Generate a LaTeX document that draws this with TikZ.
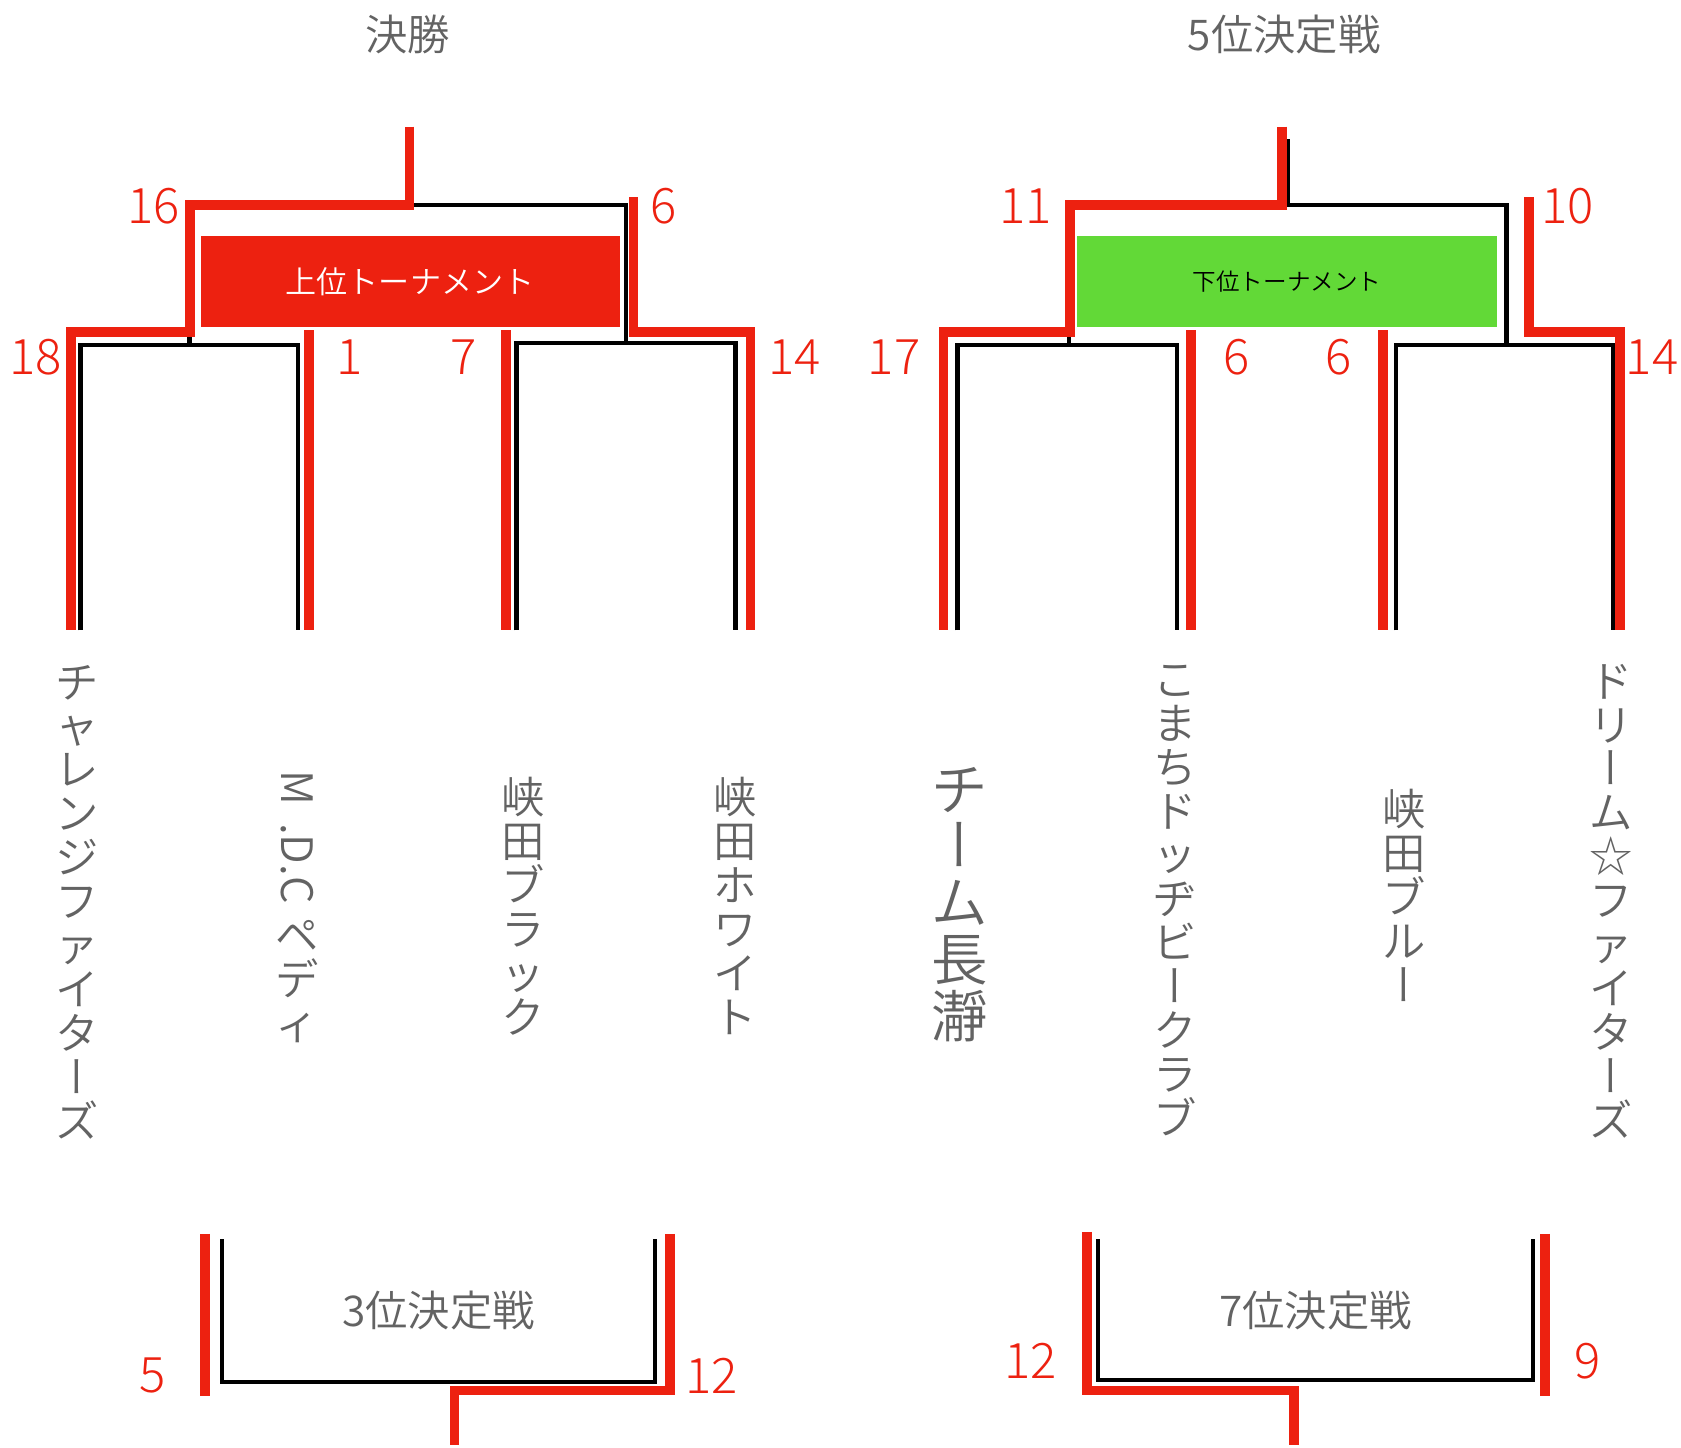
\documentclass[tikz,border=0pt]{standalone}
\usepackage{fontspec}
\IfFontExistsTF{Noto Sans CJK JP DemiLight}{\setmainfont{Noto Sans CJK JP DemiLight}\newfontfamily\jpv[RawFeature=+vert]{Noto Sans CJK JP DemiLight}}{\setmainfont{Noto Sans CJK JP}\newfontfamily\jpv[RawFeature=+vert]{Noto Sans CJK JP}}
\IfFontExistsTF{Noto Sans CJK JP Light}{\newfontfamily\numfont{Noto Sans CJK JP Light}}{\newfontfamily\numfont{Noto Sans CJK JP}}
\newcommand{\VB}{{\jpv ー}}
\definecolor{bred}{RGB}{237,33,16}
\definecolor{bgreen}{RGB}{98,217,55}
\definecolor{tgray}{RGB}{99,99,99}
\tikzset{
  redl/.style={draw=bred,line width=5.2pt,line join=miter},
  blkl/.style={draw=black,line width=2.4pt,line join=miter},
  num/.style={text=bred,inner sep=0pt,font={\numfont\fontsize{26}{26}\selectfont}},
  ttl/.style={text=tgray,inner sep=0pt,font={\fontsize{22.5}{24}\selectfont}},
  vt/.style={text=tgray,inner sep=0pt,anchor=north,align=center,font={\fontsize{23}{23.3}\selectfont\lineskiplimit=-30pt\lineskip=0pt}},
  vtbig/.style={vt,font={\fontsize{30}{30.2}\selectfont\lineskiplimit=-30pt\lineskip=0pt}},
}
\begin{document}
\begin{tikzpicture}[x=0.02cm,y=-0.02cm]
\path[use as bounding box,fill=white] (0,0) rectangle (1568,1350);

% ---------- titles ----------
\node[ttl] (tf) at (380,32) {決勝};
\node[ttl] (t5) at (1198,32) {5位決定戦};
\node[ttl] (t3) at (409,1222) {3位決定戦};
\node[ttl] (t7) at (1227,1222) {7位決定戦};

% ---------- boxes ----------
\node[fill=bred,minimum width=7.82cm,minimum height=1.7cm,inner sep=0pt,text=white,font={\fontsize{16.5}{17}\selectfont}] (ubox) at (382.5,262.5) {上位トーナメント};
\node[fill=bgreen,minimum width=7.82cm,minimum height=1.7cm,inner sep=0pt,text=black,font={\fontsize{12.5}{13}\selectfont}] (lbox) at (1200.5,262.5) {下位トーナメント};

% ---------- upper bracket (left) ----------
\draw[blkl] (382,191) -- (584,191) -- (584,322);
\draw[blkl] (177,310) -- (177,322);
\draw[blkl] (75,588) -- (75,322) -- (278,322) -- (278,588);
\draw[blkl] (482,588) -- (482,320) -- (686,320) -- (686,588);
\draw[redl] (382,118) -- (382,191) -- (177,191) -- (177,310) -- (66,310) -- (66,588);
\draw[redl] (591,184) -- (591,310) -- (700,310) -- (700,588);
\draw[redl] (288,308) -- (288,588);
\draw[redl] (472,308) -- (472,588);

% ---------- lower bracket (right) ----------
\draw[blkl] (1201,130) -- (1201,191) -- (1405,191) -- (1405,322);
\draw[blkl] (997,310) -- (997,322);
\draw[blkl] (893,588) -- (893,322) -- (1098,322) -- (1098,588);
\draw[blkl] (1302,588) -- (1302,322) -- (1505,322) -- (1505,588);
\draw[redl] (1196,118) -- (1196,191) -- (998,191) -- (998,310) -- (880,310) -- (880,588);
\draw[redl] (1426,184) -- (1426,310) -- (1511,310) -- (1511,588);
\draw[redl] (1111,308) -- (1111,588);
\draw[redl] (1290,308) -- (1290,588);

% ---------- 3rd place ----------
\draw[blkl] (207,1156) -- (207,1289) -- (611,1289) -- (611,1156);
\draw[redl] (191,1151) -- (191,1302);
\draw[redl] (625,1151) -- (625,1297) -- (424,1297) -- (424,1348);

% ---------- 7th place ----------
\draw[blkl] (1024,1156) -- (1024,1287) -- (1430,1287) -- (1430,1156);
\draw[redl] (1014,1149) -- (1014,1297) -- (1207,1297) -- (1207,1348);
\draw[redl] (1441,1151) -- (1441,1302);

% ---------- scores ----------
\node[num] (s16) at (143,192) {16};
\node[num] (s6a) at (619,192) {6};
\node[num] (s18) at (33,333) {18};
\node[num] (s1) at (326,333) {1};
\node[num] (s7) at (432,333) {7};
\node[num] (s14a) at (741,333) {14};
\node[num] (s11) at (957,192) {11};
\node[num] (s10) at (1462,192) {10};
\node[num] (s17) at (834,333) {17};
\node[num] (s6b) at (1153,333) {6};
\node[num] (s6c) at (1249,333) {6};
\node[num] (s14b) at (1541,333) {14};
\node[num] (s5) at (142,1283) {5};
\node[num] (s12a) at (664,1283) {12};
\node[num] (s12b) at (961,1269) {12};
\node[num] (s9) at (1481,1270) {9};

% ---------- team names (vertical) ----------
\node[vt] (n1) at (72,620) {チ\\ャ\\レ\\ン\\ジ\\フ\\ァ\\イ\\タ\\\VB\\ズ};
\node[text=tgray,inner sep=0pt,anchor=north,font={\fontsize{23}{23}\selectfont}] (n2a) at (277,718) {\rotatebox{-90}{M\hspace{0.42em}.D.C}};
\node[vt] (n2b) at (277,858) {ペ\\デ\\ィ};
\node[vt] (n3) at (488,725) {峡\\田\\ブ\\ラ\\ッ\\ク};
\node[vt] (n4) at (686,725) {峡\\田\\ホ\\ワ\\イ\\ト};
\node[vtbig] (n5) at (895,715) {チ\\\VB\\ム\\長\\瀞};
\node[vt] (n6) at (1096,620) {こ\\ま\\ち\\ド\\ッ\\ヂ\\ビ\\\VB\\ク\\ラ\\ブ};
\node[vt] (n7) at (1310,736) {峡\\田\\ブ\\ル\\\VB};
\node[vt] (n8) at (1503,619) {ド\\リ\\\VB\\ム\\☆\\フ\\ァ\\イ\\タ\\\VB\\ズ};
\end{tikzpicture}
\end{document}
